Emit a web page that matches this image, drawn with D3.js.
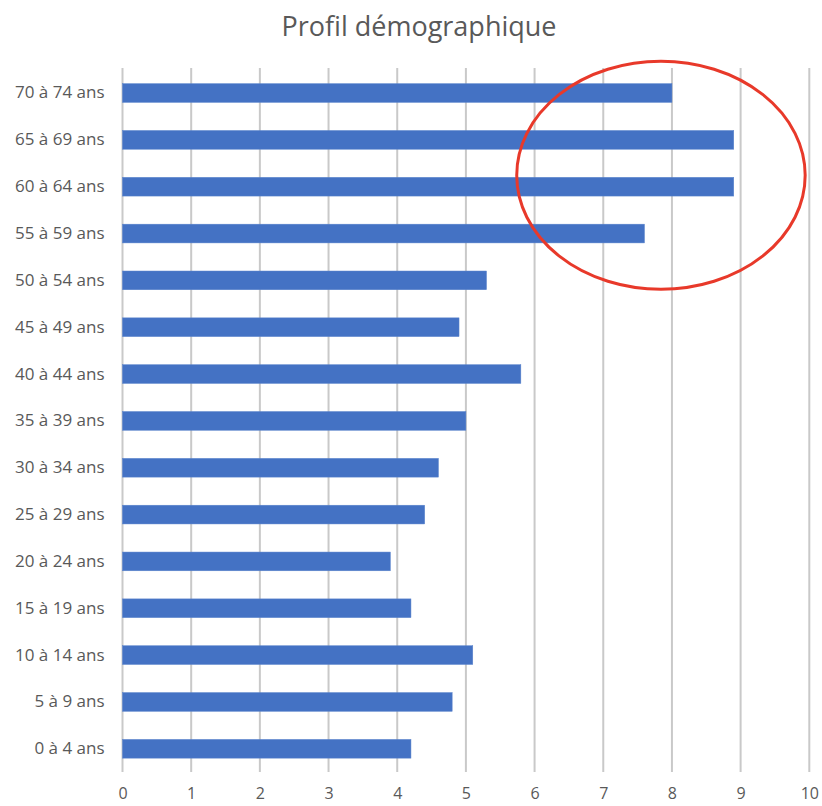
<!DOCTYPE html>
<html><head><meta charset="utf-8">
<script src="https://cdn.jsdelivr.net/npm/d3@7"></script>
<style>
body{margin:0;background:#fff;}
svg{display:block;font-family:"Open Sans","Noto Sans",sans-serif;}
</style></head>
<body><svg id="c" width="822" height="806"></svg>
<script>
const title = "Profil démographique";
const categories = ["70 à 74 ans","65 à 69 ans","60 à 64 ans","55 à 59 ans","50 à 54 ans","45 à 49 ans","40 à 44 ans","35 à 39 ans","30 à 34 ans","25 à 29 ans","20 à 24 ans","15 à 19 ans","10 à 14 ans","5 à 9 ans","0 à 4 ans"];
const values = [8.0, 8.9, 8.9, 7.6, 5.3, 4.9, 5.8, 5.0, 4.6, 4.4, 3.9, 4.2, 5.1, 4.8, 4.2];
const xTicks = [0,1,2,3,4,5,6,7,8,9,10];
const highlight = ["70 à 74 ans","55 à 59 ans"];

const svg = d3.select("#c");
const x = d3.scaleLinear().domain([0,10]).range([122.5,809.3]);
const y = d3.scaleBand().domain(categories).range([69.6,772.2]).paddingInner(0.6).paddingOuter(0.3);

svg.append("text").attr("x",419).attr("y",36).attr("text-anchor","middle")
  .attr("font-size",27).attr("fill","#595959").text(title);

// gridlines
svg.append("g").selectAll("line").data(xTicks).join("line")
  .attr("x1",d=>x(d)).attr("x2",d=>x(d)).attr("y1",68).attr("y2",772)
  .attr("stroke","#c9c9c9").attr("stroke-width",2);

// bars
svg.append("g").selectAll("rect").data(values).join("rect")
  .attr("x",x(0)).attr("y",(d,i)=>y(categories[i]))
  .attr("width",d=>x(d)-x(0)).attr("height",y.bandwidth())
  .attr("fill","#4472c4").attr("stroke","#5b84cc").attr("stroke-width",0.5);

// y axis labels
const ya = d3.axisLeft(y).tickSize(0).tickPadding(18);
svg.append("g").attr("transform",`translate(${x(0)},0)`).call(ya)
  .call(g=>g.select(".domain").remove())
  .selectAll("text").attr("font-size",17).attr("fill","#595959")
  .attr("font-family","'Open Sans','Noto Sans',sans-serif");

// x axis labels
const xa = d3.axisBottom(x).tickValues(xTicks).tickSize(0).tickPadding(16).tickFormat(d3.format("d"));
svg.append("g").attr("transform",`translate(0,772)`).call(xa)
  .call(g=>g.select(".domain").remove())
  .selectAll("text").attr("font-size",16).attr("fill","#595959")
  .attr("font-family","'Open Sans','Noto Sans',sans-serif");

// annotation ellipse around the highlighted categories
const yTop = y(highlight[0]), yBot = y(highlight[1]) + y.bandwidth();
const cy = (yTop + yBot)/2 + 12;
svg.append("ellipse").attr("cx",x(7.84)).attr("cy",cy)
  .attr("rx",x(2.1)-x(0)).attr("ry",114)
  .attr("fill","none").attr("stroke","#e8392a").attr("stroke-width",3);
</script></body></html>
